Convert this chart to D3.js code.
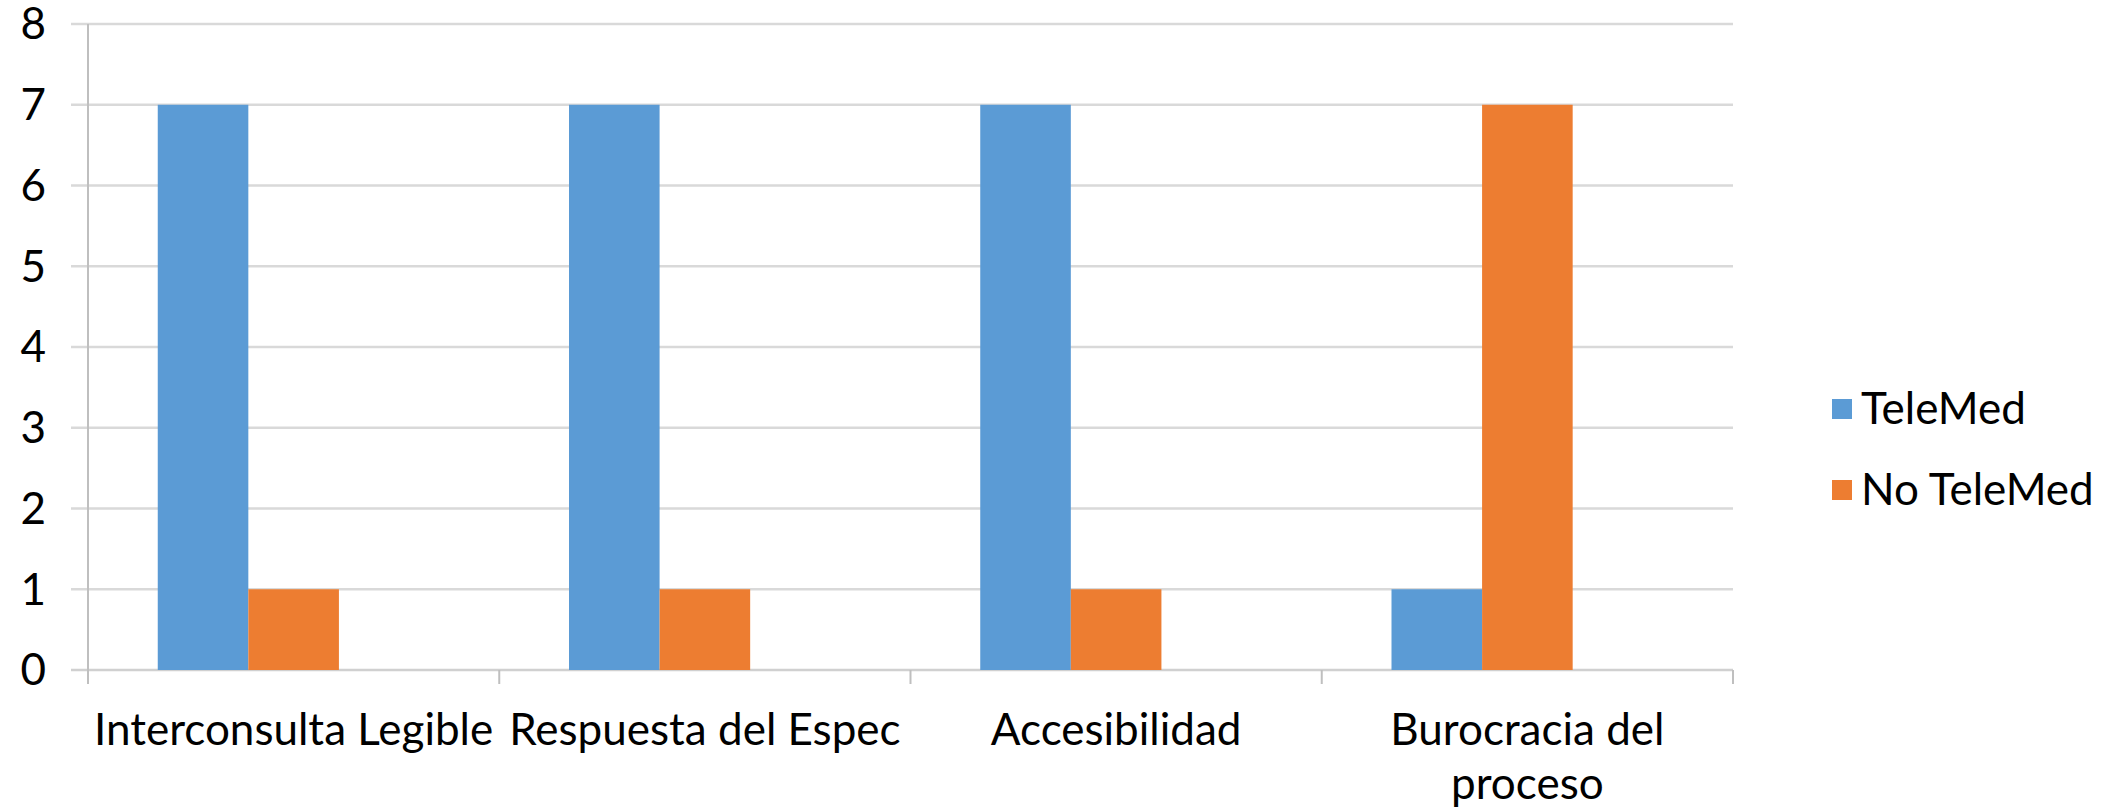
<!DOCTYPE html>
<html>
<head>
<meta charset="utf-8">
<script src="https://cdn.jsdelivr.net/npm/d3@7"></script>
<style>
  body { margin: 0; background: #fff; }
  svg text { font-family: Lato, "Open Sans", sans-serif; fill: #000; }
</style>
</head>
<body>
<div id="chart"></div>
<script>
// data
var categories = ["Interconsulta Legible", "Respuesta del Espec", "Accesibilidad", "Burocracia del proceso"];
var seriesNames = ["TeleMed", "No TeleMed"];
var teleMed = [7, 7, 7, 1];
var noTeleMed = [1, 1, 1, 7];
var yTicks = [0, 1, 2, 3, 4, 5, 6, 7, 8];
var colors = ["#5b9bd5", "#ed7d31"];

var width = 2115, height = 810;
var mLeft = 88, mRight = 1733, mTop = 24, mBottom = 670;
var fontSize = 44;

var rows = categories.map(function(c, i) {
    return { cat: c, values: [teleMed[i], noTeleMed[i]] };
});

var svg = d3.select("#chart").append("svg")
    .attr("width", width)
    .attr("height", height);

var y = d3.scaleLinear().domain([0, 8]).range([mBottom, mTop]);

var x0 = d3.scaleBand().domain(categories).range([mLeft, mRight]).padding(0);

// the original chart keeps room for an empty third series, so the pair sits left of centre
var x1 = d3.scaleBand().domain(seriesNames.concat(["_empty"])).range([0, x0.bandwidth()])
    .paddingInner(0).paddingOuter(0.77);

// gridlines + left ticks
svg.append("g").selectAll("line")
    .data(yTicks)
    .enter().append("line")
    .attr("x1", mLeft - 17)
    .attr("x2", mRight)
    .attr("y1", function(d) { return y(d); })
    .attr("y2", function(d) { return y(d); })
    .attr("stroke", function(d) { return d == 0 ? "#d0d0d0" : "#d9d9d9"; })
    .attr("stroke-width", 2.5);

svg.append("g").selectAll("text")
    .data(yTicks)
    .enter().append("text")
    .attr("x", 46)
    .attr("y", function(d) { return y(d); })
    .attr("dy", "0.35em")
    .attr("text-anchor", "end")
    .attr("font-size", fontSize)
    .text(function(d) { return d; });

// y axis line
svg.append("line")
    .attr("x1", mLeft).attr("x2", mLeft)
    .attr("y1", mTop).attr("y2", mBottom + 14)
    .attr("stroke", "#bfbfbf")
    .attr("stroke-width", 2);

// x ticks at band edges
var edges = categories.map(function(c) { return x0(c); }).concat([mRight]);
svg.append("g").selectAll("line")
    .data(edges)
    .enter().append("line")
    .attr("x1", function(d) { return d; })
    .attr("x2", function(d) { return d; })
    .attr("y1", mBottom)
    .attr("y2", mBottom + 14)
    .attr("stroke", "#bfbfbf")
    .attr("stroke-width", 2);

// bars
var groups = svg.append("g").selectAll("g")
    .data(rows)
    .enter().append("g")
    .attr("transform", function(d) { return "translate(" + x0(d.cat) + ",0)"; });

groups.selectAll("rect")
    .data(function(d) { return d.values.map(function(v, i) { return { s: seriesNames[i], v: v, i: i }; }); })
    .enter().append("rect")
    .attr("x", function(d) { return x1(d.s); })
    .attr("y", function(d) { return y(d.v); })
    .attr("width", x1.bandwidth())
    .attr("height", function(d) { return y(0) - y(d.v); })
    .attr("fill", function(d) { return colors[d.i]; });

// category labels (the last one wraps like the original)
var catLines = {
    "Interconsulta Legible": ["Interconsulta Legible"],
    "Respuesta del Espec": ["Respuesta del Espec"],
    "Accesibilidad": ["Accesibilidad"],
    "Burocracia del proceso": ["Burocracia del", "proceso"]
};
var labels = svg.append("g").selectAll("text")
    .data(categories)
    .enter().append("text")
    .attr("text-anchor", "middle")
    .attr("font-size", fontSize);

labels.selectAll("tspan")
    .data(function(d) { return catLines[d].map(function(t) { return { cat: d, t: t }; }); })
    .enter().append("tspan")
    .attr("x", function(d) { return x0(d.cat) + x0.bandwidth() / 2; })
    .attr("y", function(d, i) { return 745 + i * 54; })
    .text(function(d) { return d.t; });

// legend
var legend = svg.append("g").selectAll("g")
    .data(seriesNames)
    .enter().append("g")
    .attr("transform", function(d, i) { return "translate(1832," + (409 + i * 81) + ")"; });

legend.append("rect")
    .attr("x", 0).attr("y", -10)
    .attr("width", 20).attr("height", 20)
    .attr("fill", function(d, i) { return colors[i]; });

legend.append("text")
    .attr("x", 29)
    .attr("dy", "0.35em")
    .attr("font-size", fontSize)
    .text(function(d) { return d; });
</script>
</body>
</html>
